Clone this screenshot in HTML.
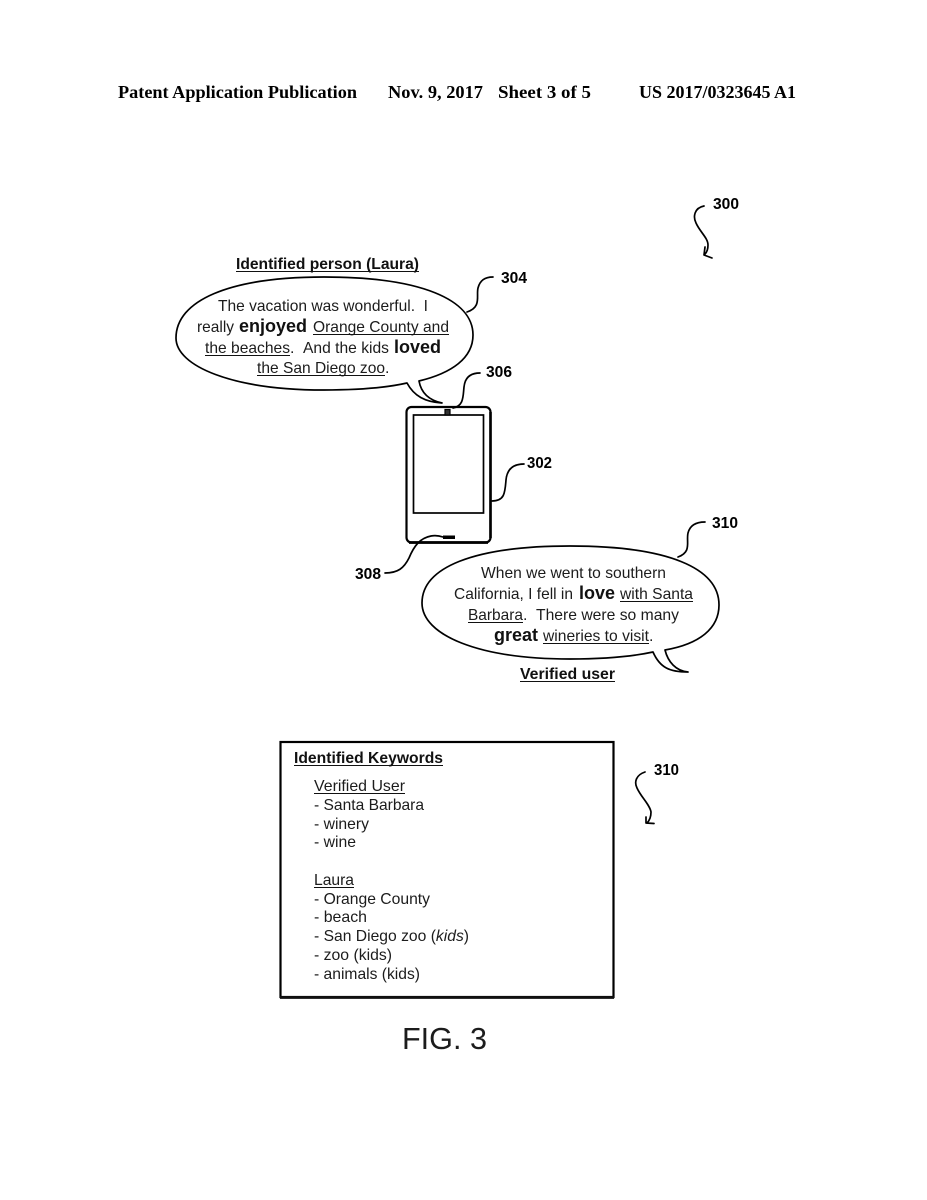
<!DOCTYPE html>
<html><head><meta charset="utf-8"><style>
html,body{margin:0;padding:0;background:#fff}
svg{display:block;filter:blur(.3px)}
text{font-family:"Liberation Sans",sans-serif;font-size:16px;fill:#1c1c1c}
.b{font-weight:bold;fill:#111}
.e{font-weight:bold;font-size:18.5px;fill:#111}
.r{font-weight:bold;font-size:15.6px;fill:#000}
.h{font-family:"Liberation Serif",serif;font-weight:bold;font-size:18px;fill:#000}
.l{fill:none;stroke:#000;stroke-width:1.7;stroke-linecap:round;stroke-linejoin:round}
.u{stroke:#111;stroke-width:1.1}
</style></head><body>
<svg width="927" height="1200" viewBox="0 0 927 1200" xmlns="http://www.w3.org/2000/svg">
<rect width="927" height="1200" fill="#fff"/>
<text class="h" x="118" y="98" textLength="239" lengthAdjust="spacingAndGlyphs">Patent Application Publication</text>
<text class="h" x="388" y="98" textLength="95" lengthAdjust="spacingAndGlyphs">Nov. 9, 2017</text>
<text class="h" x="498" y="98" textLength="93" lengthAdjust="spacingAndGlyphs">Sheet 3 of 5</text>
<text class="h" x="639" y="98" textLength="157" lengthAdjust="spacingAndGlyphs">US 2017/0323645 A1</text>

<text class="r" x="713" y="209" textLength="26" lengthAdjust="spacingAndGlyphs">300</text>
<path class="l" d="M704 206C694 208 693 217 696 223C700 232 708 238 708 245C708 249 707 252 705 254M705 247L704 255L712 258"/>

<text class="b" x="236" y="269" textLength="183" lengthAdjust="spacingAndGlyphs">Identified person (Laura)</text>
<line class="u" x1="236" y1="271.500" x2="419" y2="271.500" stroke-width="1.300"/>

<path class="l" d="M407 383C385 388 355 390 324 390C232 390 176 366 176 338C176 301 228 277 324 277C422 277 473 300 473 335C473 358 452 373 419 381C421 392 428 400 442 403C425 402 414 396 407 383Z"/>
<path class="l" d="M467 312C482 307 476 296 478 288C480 280 485 277 493 277"/>
<text class="r" x="501" y="283" textLength="26" lengthAdjust="spacingAndGlyphs">304</text>
<path class="l" d="M453 408C464 406 463 396 464 387C465 377 471 373 480 373"/>
<text class="r" x="486" y="377" textLength="26" lengthAdjust="spacingAndGlyphs">306</text>

<text x="218" y="311" textLength="210" lengthAdjust="spacingAndGlyphs" xml:space="preserve">The vacation was wonderful.  I</text>
<text x="197" y="332" textLength="37" lengthAdjust="spacingAndGlyphs">really</text>
<text class="e" x="239" y="332" textLength="68" lengthAdjust="spacingAndGlyphs">enjoyed</text>
<text x="313" y="332" textLength="136" lengthAdjust="spacingAndGlyphs">Orange County and</text>
<line class="u" x1="313" y1="334.500" x2="449" y2="334.500"/>
<text x="205" y="353" textLength="85" lengthAdjust="spacingAndGlyphs">the beaches</text>
<line class="u" x1="205" y1="355.500" x2="290" y2="355.500"/>
<text x="290" y="353">.</text>
<text x="303" y="353" textLength="86" lengthAdjust="spacingAndGlyphs">And the kids</text>
<text class="e" x="394" y="353" textLength="47" lengthAdjust="spacingAndGlyphs">loved</text>
<text x="257" y="373" textLength="128" lengthAdjust="spacingAndGlyphs">the San Diego zoo</text>
<line class="u" x1="257" y1="375.500" x2="385" y2="375.500"/>
<text x="385" y="373">.</text>

<rect x="406.500" y="407" width="84" height="135.500" rx="5" fill="none" stroke="#000" stroke-width="2.200"/>
<line x1="409" y1="542.500" x2="488" y2="542.500" stroke="#000" stroke-width="2.800"/>
<line x1="490.500" y1="412" x2="490.500" y2="538" stroke="#000" stroke-width="2.600"/>
<rect x="413.500" y="415" width="70" height="98" fill="none" stroke="#000" stroke-width="1.700"/>
<rect x="445" y="409.500" width="5" height="5.500" fill="#333" stroke="#000" stroke-width="1.200"/>
<rect x="443" y="535.500" width="12" height="3.500" fill="#000"/>
<path class="l" d="M492 501C505 501 505 492 506 480C507 469 513 464 524 464"/>
<text class="r" x="527" y="468" textLength="25" lengthAdjust="spacingAndGlyphs">302</text>
<path class="l" d="M385 573C398 573 404 568 409 558C414 546 420 538 431 536C436 535 440 536 443 537"/>
<text class="r" x="355" y="579" textLength="26" lengthAdjust="spacingAndGlyphs">308</text>

<path class="l" d="M653 652C630 657 600 659 570 659C478 659 422 635 422 603C422 568 472 546 570 546C668 546 719 568 719 605C719 628 700 644 665 650C668 662 676 671 688 672C670 672 660 668 653 652Z"/>
<path class="l" d="M678 557C692 552 686 542 688 533C690 525 696 522 705 522"/>
<text class="r" x="712" y="528" textLength="26" lengthAdjust="spacingAndGlyphs">310</text>

<text x="481" y="578" textLength="185" lengthAdjust="spacingAndGlyphs">When we went to southern</text>
<text x="454" y="599" textLength="119" lengthAdjust="spacingAndGlyphs">California, I fell in</text>
<text class="e" x="579" y="599" textLength="36" lengthAdjust="spacingAndGlyphs">love</text>
<text x="620" y="599" textLength="73" lengthAdjust="spacingAndGlyphs">with Santa</text>
<line class="u" x1="620" y1="601.500" x2="693" y2="601.500"/>
<text x="468" y="620" textLength="55" lengthAdjust="spacingAndGlyphs">Barbara</text>
<line class="u" x1="468" y1="622.500" x2="523" y2="622.500"/>
<text x="523" y="620">.</text>
<text x="536" y="620" textLength="143" lengthAdjust="spacingAndGlyphs">There were so many</text>
<text class="e" x="494" y="641" textLength="44" lengthAdjust="spacingAndGlyphs">great</text>
<text x="543" y="641" textLength="106" lengthAdjust="spacingAndGlyphs">wineries to visit</text>
<line class="u" x1="543" y1="643.500" x2="649" y2="643.500"/>
<text x="649" y="641">.</text>
<text class="b" x="520" y="679" textLength="95" lengthAdjust="spacingAndGlyphs">Verified user</text>
<line class="u" x1="520" y1="681.500" x2="615" y2="681.500" stroke-width="1.300"/>

<rect x="280.500" y="742" width="333" height="255" fill="none" stroke="#000" stroke-width="2.200"/>
<line x1="280" y1="997.500" x2="614" y2="997.500" stroke="#111" stroke-width="2.800"/>
<text class="b" x="294" y="763" textLength="149" lengthAdjust="spacingAndGlyphs">Identified Keywords</text>
<line class="u" x1="294" y1="765.500" x2="443" y2="765.500" stroke-width="1.300"/>
<text x="314" y="791" textLength="91" lengthAdjust="spacingAndGlyphs">Verified User</text>
<line class="u" x1="314" y1="793.500" x2="405" y2="793.500"/>
<text x="314" y="810" textLength="110" lengthAdjust="spacingAndGlyphs">- Santa Barbara</text>
<text x="314" y="829" textLength="55" lengthAdjust="spacingAndGlyphs">- winery</text>
<text x="314" y="847" textLength="42" lengthAdjust="spacingAndGlyphs">- wine</text>
<text x="314" y="885" textLength="40" lengthAdjust="spacingAndGlyphs">Laura</text>
<line class="u" x1="314" y1="887.500" x2="354" y2="887.500"/>
<text x="314" y="904" textLength="116" lengthAdjust="spacingAndGlyphs">- Orange County</text>
<text x="314" y="922" textLength="53" lengthAdjust="spacingAndGlyphs">- beach</text>
<text x="314" y="941" textLength="155" lengthAdjust="spacingAndGlyphs">- San Diego zoo (<tspan font-style="italic">kids</tspan>)</text>
<text x="314" y="960" textLength="78" lengthAdjust="spacingAndGlyphs">- zoo (kids)</text>
<text x="314" y="979" textLength="106" lengthAdjust="spacingAndGlyphs">- animals (kids)</text>

<text class="r" x="654" y="775" textLength="25" lengthAdjust="spacingAndGlyphs">310</text>
<path class="l" d="M645 772C636 775 634 782 637 788C641 797 650 805 651 812C651 816 650 820 647 823M646 817L646 823L654 823.500"/>

<text x="402" y="1049" style="font-size:31px" textLength="85" lengthAdjust="spacingAndGlyphs">FIG. 3</text>
</svg>
</body></html>
